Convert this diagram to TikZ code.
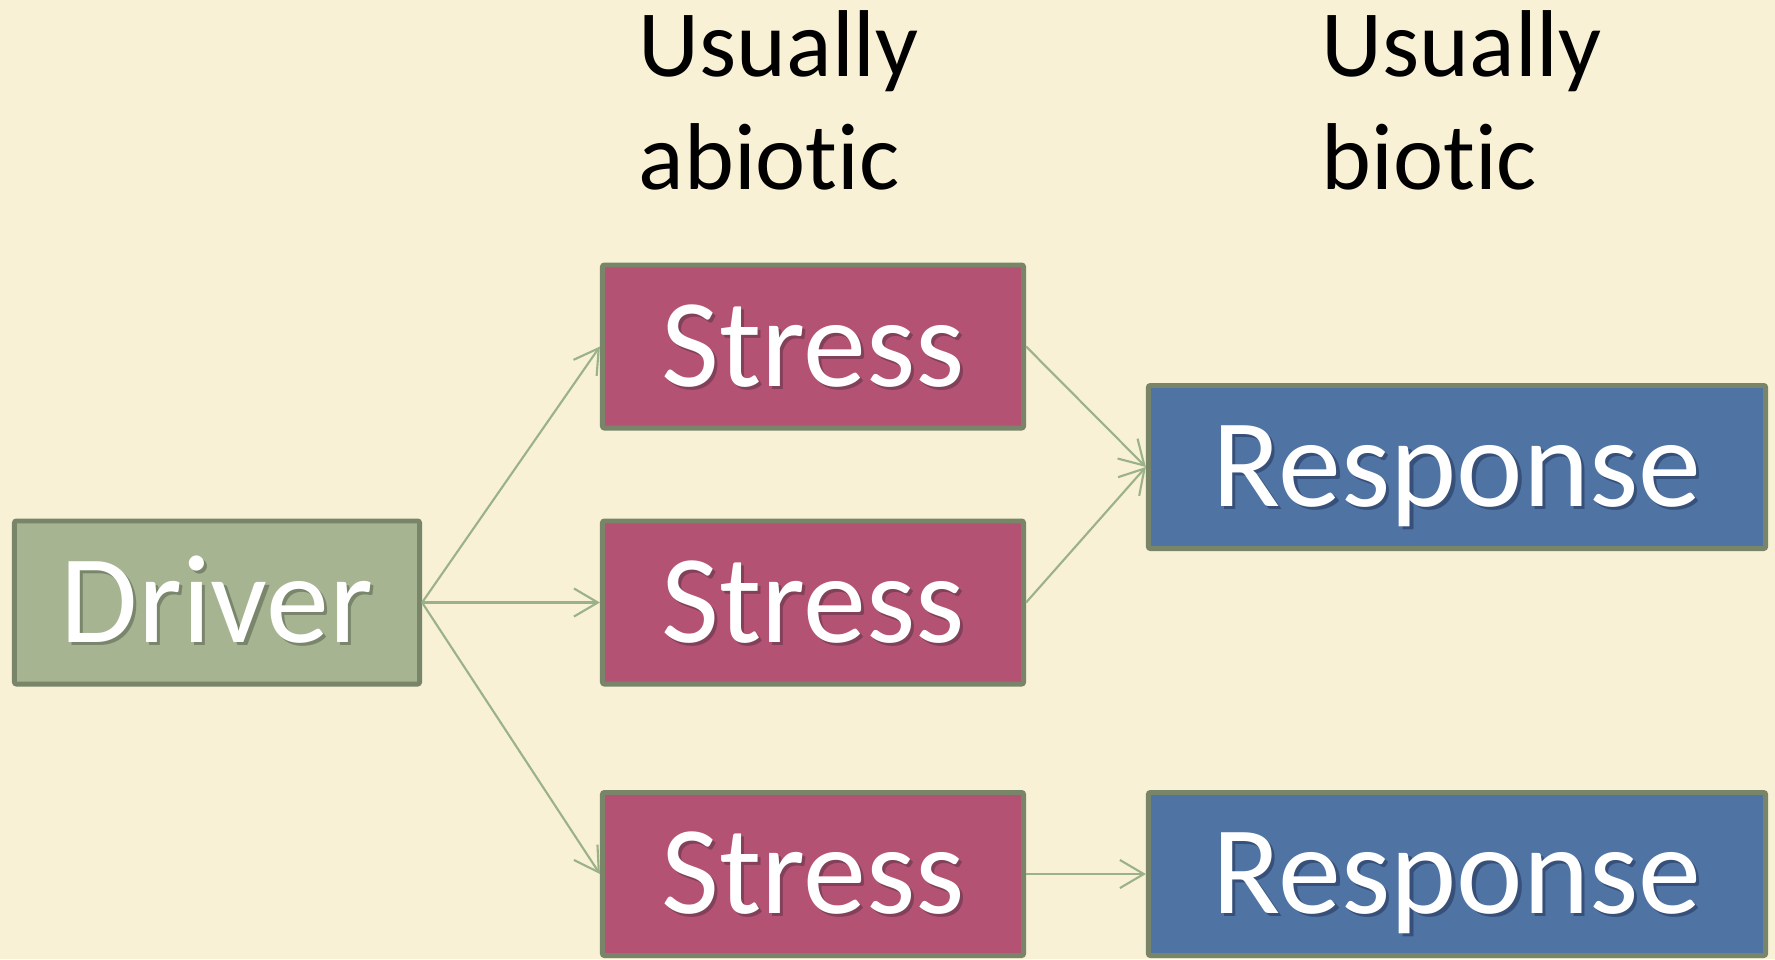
\documentclass[tikz,border=0pt]{standalone}
\usepackage{fontspec}
\setmainfont{Carlito}[Ligatures=CommonOff]
\usetikzlibrary{arrows.meta}
\definecolor{paper}{HTML}{F8F1D5}
\definecolor{drvfill}{HTML}{A6B492}
\definecolor{drvshade}{HTML}{7A866C}
\definecolor{strfill}{HTML}{B45273}
\definecolor{strshade}{HTML}{83405A}
\definecolor{resfill}{HTML}{4F73A3}
\definecolor{resshade}{HTML}{36507A}
\definecolor{boxline}{HTML}{788568}
\definecolor{arrline}{HTML}{9BB289}
\newcommand\shadowtxt[2]{\makebox[0pt][l]{\kern0.9pt\raisebox{-0.9pt}{\textcolor{#1}{#2}}}#2}

\begin{document}
\begin{tikzpicture}[x=0.01cm, y=-0.01cm,
		box/.style={draw=boxline, line width=1.4pt, rounded corners=0.6pt, text=white,
			font=\fontsize{35.8}{40}\selectfont, text height=22.6pt, text depth=0pt,
			minimum height=1.63cm, inner sep=0pt},
		link/.style={draw=arrline, line width=0.6pt, -{Straight Barb[length=6.8pt,width=8pt]}},
		head/.style={font=\fontsize{27}{32}\selectfont, align=left, anchor=base west, inner sep=0pt}]
			%%%%% START %%%%%
			
			\fill[paper] (0, 0) rectangle (1775, 959);
			\useasboundingbox (0, 0) rectangle (1775, 959);
			
			\node[head] (abio) at (638, 189) {Usually\\abiotic};
			\node[head] (bio) at (1321, 189) {Usually\\biotic};
			
			\node[box, fill=drvfill, minimum width=4.05cm] (driver) at (217, 602.5) {\shadowtxt{drvshade}{Driver}};
			
			\node[box, fill=strfill, minimum width=4.21cm] (stressA) at (813, 346.5) {\shadowtxt{strshade}{Stress}};
			\node[box, fill=strfill, minimum width=4.21cm] (stressB) at (813, 602.5) {\shadowtxt{strshade}{Stress}};
			\node[box, fill=strfill, minimum width=4.21cm] (stressC) at (813, 874) {\shadowtxt{strshade}{Stress}};
			
			\node[box, fill=resfill, minimum width=6.17cm] (respA) at (1457, 467) {\shadowtxt{resshade}{Response}};
			\node[box, fill=resfill, minimum width=6.17cm] (respB) at (1457, 874) {\shadowtxt{resshade}{Response}};
			
			\draw[link] (driver.east) -- (stressA.west);
			\draw[link] (driver.east) -- (stressB.west);
			\draw[link] (driver.east) -- (stressC.west);
			
			\draw[link] (stressA.east) -- (respA.west);
			\draw[link] (stressB.east) -- (respA.west);
			\draw[link] (stressC.east) -- (respB.west);
			
			%%%%% END %%%%%
		\end{tikzpicture}
\end{document}
